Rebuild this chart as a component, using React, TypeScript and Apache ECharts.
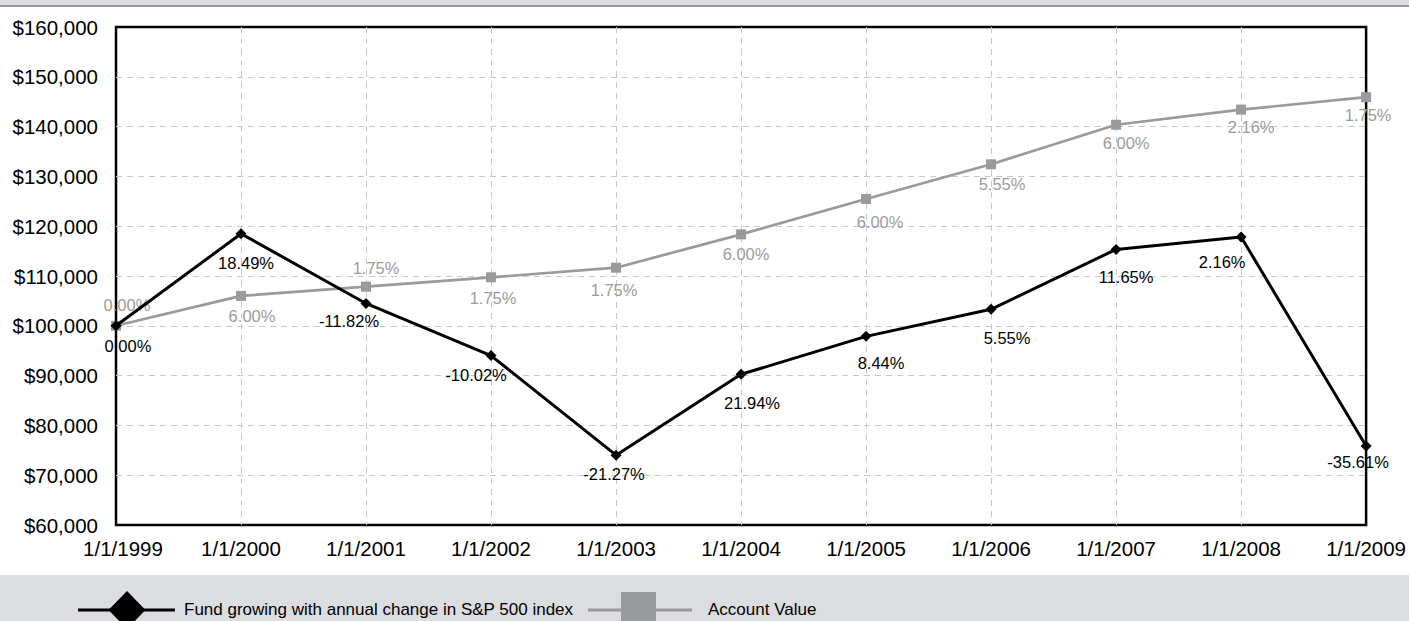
import React, { useEffect, useRef } from "react";
import * as echarts from "echarts";

// Anniversary dates along the x axis
const dates = [
  "1/1/1999", "1/1/2000", "1/1/2001", "1/1/2002", "1/1/2003", "1/1/2004",
  "1/1/2005", "1/1/2006", "1/1/2007", "1/1/2008", "1/1/2009",
];

// Fund tracking the S&P 500, with its yearly change
const fundValues = [100000, 118490, 104485, 94016, 74019, 90259, 97877, 103309, 115344, 117836, 75875];
const fundChanges = ["0.00%", "18.49%", "-11.82%", "-10.02%", "-21.27%", "21.94%", "8.44%", "5.55%", "11.65%", "2.16%", "-35.61%"];

// Account value with its credited yearly change
const accountValues = [100000, 106000, 107855, 109742, 111663, 118363, 125465, 132428, 140374, 143406, 145915];
const accountChanges = ["0.00%", "6.00%", "1.75%", "1.75%", "1.75%", "6.00%", "6.00%", "5.55%", "6.00%", "2.16%", "1.75%"];

// Value axis range
const yMin = 60000;
const yMax = 160000;
const yStep = 10000;

const seriesNames = ["Fund growing with annual change in S&P 500 index", "Account Value"];

// Label placement relative to each marker centre, in pixels
const fundLabelOffsets = [[12, 20], [5, 29], [-17, 18], [-15, 19], [-2, 19], [11, 29], [15, 27], [16, 29], [10, 28], [-19, 25], [-8, 16]];
const accountLabelOffsets = [[11, -21], [11, 20], [10, -19], [2, 21], [-2, 22], [5, 20], [14, 23], [11, 20], [10, 18], [10, 17], [2, 18]];

const FONT = "'Liberation Sans', Arial, Helvetica, sans-serif";
const GRAY = "#999a9c";
const BAND = "#dcdde0";
const GRID_LINE = { color: "#c8c8c8", width: 1, type: [6, 5] };

function money(v: number): string {
  return "$" + v.toLocaleString("en-US");
}

export default function App() {
  const ref = useRef<HTMLDivElement>(null);

  useEffect(() => {
    if (!ref.current) return;
    const chart = echarts.init(ref.current, undefined, { renderer: "svg" });

    const labelled = (values: number[], texts: string[], offsets: number[][]) =>
      values.map((v, i) => ({
        value: v,
        label: { formatter: texts[i], offset: offsets[i] },
      }));

    chart.setOption({
      animation: false,
      backgroundColor: "#ffffff",
      grid: {
        left: 116,
        right: 41,
        top: 27,
        bottom: 96,
        show: true,
        borderColor: "#000",
        borderWidth: 2.5,
        backgroundColor: "transparent",
      },
      xAxis: {
        type: "category",
        data: dates,
        boundaryGap: false,
        axisLine: { show: false },
        axisTick: { show: false },
        axisLabel: {
          interval: 0,
          margin: 13,
          color: "#000",
          fontFamily: FONT,
          fontSize: 20.5,
          // the first date is nudged clear of the value axis
          formatter: (v: string, i: number) => (i === 0 ? `{first|${v}}` : v),
          rich: {
            first: {
              padding: [0, 0, 0, 14],
              color: "#000",
              fontFamily: FONT,
              fontSize: 20.5,
            },
          },
        },
        splitLine: {
          show: true,
          showMinLine: false,
          showMaxLine: false,
          lineStyle: GRID_LINE,
        },
      },
      yAxis: {
        type: "value",
        min: yMin,
        max: yMax,
        interval: yStep,
        axisLine: { show: false },
        axisTick: { show: false },
        axisLabel: {
          margin: 18,
          color: "#000",
          fontFamily: FONT,
          fontSize: 20.5,
          formatter: (v: number) => money(v),
        },
        splitLine: {
          show: true,
          showMinLine: false,
          showMaxLine: false,
          lineStyle: GRID_LINE,
        },
      },
      series: [
        {
          name: seriesNames[1],
          type: "line",
          data: labelled(accountValues, accountChanges, accountLabelOffsets),
          symbol: "rect",
          symbolSize: 10,
          itemStyle: { color: GRAY },
          lineStyle: { color: GRAY, width: 2.7 },
          label: {
            show: true,
            position: "inside",
            color: "#9c9c9c",
            fontFamily: FONT,
            fontSize: 16.5,
          },
          z: 3,
        },
        {
          name: seriesNames[0],
          type: "line",
          data: labelled(fundValues, fundChanges, fundLabelOffsets),
          symbol: "diamond",
          symbolSize: [11, 11],
          itemStyle: { color: "#000" },
          lineStyle: { color: "#000", width: 3 },
          label: {
            show: true,
            position: "inside",
            color: "#000",
            fontFamily: FONT,
            fontSize: 16.5,
          },
          z: 4,
        },
      ],
      graphic: [
        // header band and rule
        { type: "rect", left: 0, top: 0, shape: { x: 0, y: 0, width: 1409, height: 5 }, style: { fill: BAND }, silent: true },
        { type: "rect", left: 0, top: 5, shape: { x: 0, y: 0, width: 1409, height: 2 }, style: { fill: "#9a9a9a" }, silent: true },
        // legend band
        { type: "rect", left: 0, top: 575, shape: { x: 0, y: 0, width: 1409, height: 46 }, style: { fill: BAND }, silent: true },
        {
          type: "group",
          silent: true,
          children: [
            { type: "line", shape: { x1: 78, y1: 610, x2: 175, y2: 610 }, style: { stroke: "#000", lineWidth: 3 } },
            {
              type: "polygon",
              shape: { points: [[127, 591], [145.5, 610], [127, 629], [108.5, 610]] },
              style: { fill: "#000" },
            },
            {
              type: "text",
              x: 184,
              y: 609,
              style: { text: seriesNames[0], fill: "#000", font: `17px ${FONT}`, verticalAlign: "middle", align: "left" },
            },
            { type: "line", shape: { x1: 588, y1: 610, x2: 692, y2: 610 }, style: { stroke: GRAY, lineWidth: 3 } },
            { type: "rect", shape: { x: 621, y: 592, width: 35, height: 35 }, style: { fill: GRAY } },
            {
              type: "text",
              x: 708,
              y: 609,
              style: { text: seriesNames[1], fill: "#000", font: `17px ${FONT}`, verticalAlign: "middle", align: "left" },
            },
          ],
        },
      ],
    });

    return () => chart.dispose();
  }, []);

  return (
    <div
      ref={ref}
      style={{ position: "fixed", left: 0, top: 0, width: 1409, height: 621 }}
    />
  );
}
